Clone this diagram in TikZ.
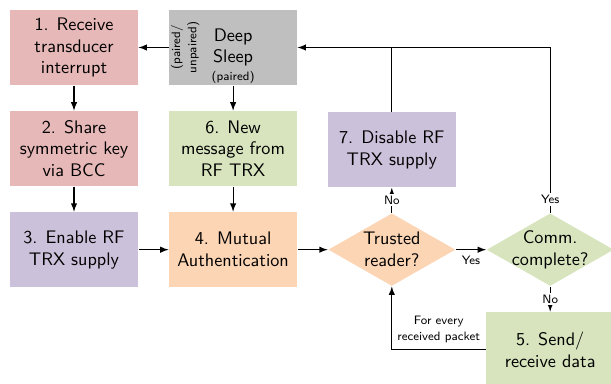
\documentclass[tikz,border=0pt]{standalone}
\usetikzlibrary{positioning,arrows,shapes}
\definecolor{pinkbox}{HTML}{E6B9B8}
\definecolor{greybox}{HTML}{BFBFBF}
\definecolor{greenbox}{HTML}{D7E4BD}
\definecolor{lilacbox}{HTML}{CCC1DA}
\definecolor{peachbox}{HTML}{FCD5B5}
\newcommand{\notesize}{\fontsize{6.7pt}{9pt}\selectfont}

\begin{document}
\begin{tikzpicture}[x=0.55pt, y=-0.55pt, node distance = 13.75pt and 16.5pt, > = latex, semithick, font=\sffamily,
stage/.style={ rectangle, fill=#1, minimum width = 70.4pt, minimum height = 41.25pt, align=center, inner sep=1pt },
decision/.style={ diamond, fill=#1, minimum width = 70pt, minimum height = 40pt, inner sep=0pt },
note/.style={ font=\sffamily\notesize, align=center },
tag/.style={ font=\sffamily\notesize, fill=white, inner sep=1pt }]

\useasboundingbox (0,0) rectangle (611,384);

\node (rx) [stage=pinkbox] at(74,47.5){1. Receive\\transducer\\interrupt};
\node (sleep) [stage=greybox, right = of rx,
	label={[note, inner sep=1pt, anchor=south]south:(paired)},
	label={[note, inner sep=1pt, rotate=90, anchor=north]west:(paired/\\unpaired)}] {Deep\\Sleep};

%left column
\node (share) [stage=pinkbox, below = of rx] {2. Share\\symmetric key\\via BCC};
\node (enable) [stage=lilacbox, below = of share] {3. Enable RF\\TRX supply};

%middle column
\node (msg) [stage=greenbox, below = of sleep] {6. New\\message from\\RF TRX};
\node (auth) [stage=peachbox, below = of msg] {4. Mutual\\Authentication};

%decisions
\node (trust) [decision=peachbox, right = of auth, label={[align=center]center:Trusted\\reader?}] {};
\node (disable) [stage=lilacbox, above = of trust] {7. Disable RF\\TRX supply};
\node (comm) [decision=greenbox, right = of trust, label={[align=center]center:Comm.\\complete?}] {};
\node (send) [stage=greenbox, below = of comm] {5. Send/\\receive data};

\draw [->] (sleep) -- (rx);
\draw [->] (rx) -- (share);
\draw [->] (share) -- (enable);
\draw [->] (enable) -- (auth);
\draw [->] (sleep) -- (msg);
\draw [->] (msg) -- (auth);
\draw [->] (auth) -- (trust);
\draw [->] (trust) -- node[note, below]{Yes} (comm);
\draw [->] (trust) -- node[tag]{No} (disable);
\draw [->] (comm) -- node[tag]{No} (send);
\draw [->] (comm) |- node[tag, pos=0.04]{Yes} (sleep);
\draw (disable) -- (disable |- sleep);
\draw [->] (send) -| node[note, above, pos=0.25]{For every\\received packet} (trust);

\end{tikzpicture}
\end{document}
